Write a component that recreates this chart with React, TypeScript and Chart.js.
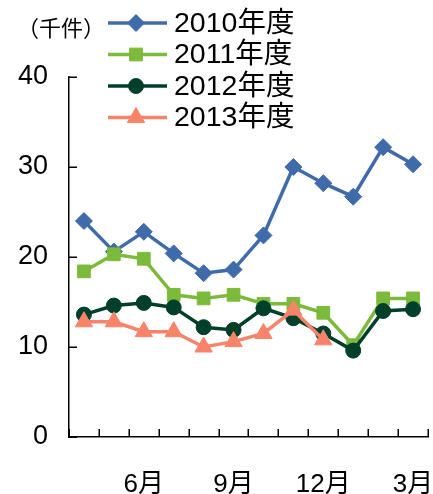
import React, { useEffect, useRef } from 'react';
import { Chart, registerables } from 'chart.js';
import { drawPoint } from 'chart.js/helpers';

Chart.register(...registerables);

const categories = ['4月', '5月', '6月', '7月', '8月', '9月', '10月', '11月', '12月', '1月', '2月', '3月'];
const tickLabels = ['', '', '6月', '', '', '9月', '', '', '12月', '', '', '3月'];
const seriesNames = ['2010年度', '2011年度', '2012年度', '2013年度'];
const fy2010 = [24.0, 20.6, 22.8, 20.4, 18.2, 18.6, 22.4, 30.0, 28.2, 26.7, 32.2, 30.3];
const fy2011 = [18.4, 20.3, 19.8, 15.8, 15.4, 15.8, 14.8, 14.8, 13.8, 10.2, 15.4, 15.4];
const fy2012 = [13.6, 14.6, 14.9, 14.4, 12.2, 11.9, 14.3, 13.2, 11.5, 9.6, 14.0, 14.2];
const fy2013 = [12.8, 12.8, 11.7, 11.7, 10.0, 10.6, 11.5, 14.1, 10.8, null, null, null];
const yTicks = [0, 10, 20, 30, 40];
const unitLabel = '（千件）';

const FONT = "'Liberation Sans', Arial, 'Noto Sans CJK JP', sans-serif";

const inwardTicks = {
  id: 'inwardTicks',
  beforeDatasetsDraw(chart: any) {
    const xs = chart.scales.x;
    const ys = chart.scales.y;
    const ctx = chart.ctx;
    ctx.save();
    ctx.strokeStyle = '#000';
    ctx.lineWidth = 1.5;
    const ax = ys.right;
    yTicks.forEach((v) => {
      const py = Math.round(ys.getPixelForValue(v)) + 0.25;
      ctx.beginPath();
      ctx.moveTo(ax, py);
      ctx.lineTo(ax + 8, py);
      ctx.stroke();
    });
    const half = (xs.getPixelForValue(1) - xs.getPixelForValue(0)) / 2;
    for (let i = 0; i <= categories.length; i++) {
      const px = Math.round(xs.getPixelForValue(i) - half) + 0.25;
      ctx.beginPath();
      ctx.moveTo(px, xs.top);
      ctx.lineTo(px, xs.top - 8);
      ctx.stroke();
    }
    ctx.restore();
  },
};

const customLegend = {
  id: 'customLegend',
  afterDraw(chart: any) {
    const ctx = chart.ctx;
    ctx.save();
    chart.data.datasets.forEach((ds: any, i: number) => {
      const y = 23 + i * 31.5;
      ctx.strokeStyle = ds.borderColor;
      ctx.lineWidth = 3.5;
      ctx.beginPath();
      ctx.moveTo(108, y);
      ctx.lineTo(167, y);
      ctx.stroke();
      ctx.fillStyle = ds.pointBackgroundColor;
      ctx.strokeStyle = ds.pointBorderColor;
      ctx.lineWidth = 1;
      drawPoint(ctx, { pointStyle: ds.pointStyle, radius: ds.pointRadius, rotation: 0, borderWidth: 1 } as any, 136, y);
      ctx.fillStyle = '#000';
      ctx.font = `28.5px ${FONT}`;
      ctx.textBaseline = 'middle';
      ctx.textAlign = 'left';
      ctx.fillText(ds.label, 174, y + 1);
    });
    ctx.font = `22px ${FONT}`;
    ctx.fillStyle = '#000';
    ctx.textBaseline = 'middle';
    ctx.textAlign = 'left';
    ctx.fillText(unitLabel, 17, 30);
    ctx.restore();
  },
};

export default function App() {
  const ref = useRef<HTMLCanvasElement | null>(null);
  useEffect(() => {
    if (!ref.current) return;
    const mk = (label: string, data: (number | null)[], color: string, style: string, radius: number, order: number) => ({
      label,
      data,
      borderColor: color,
      backgroundColor: color,
      pointBackgroundColor: color,
      pointBorderColor: color,
      pointStyle: style,
      pointRadius: radius,
      pointBorderWidth: 1,
      borderWidth: 3.5,
      tension: 0,
      order,
    });
    const chart = new Chart(ref.current, {
      type: 'line',
      data: {
        labels: categories,
        datasets: [
          mk(seriesNames[0], fy2010, '#406BAA', 'rectRot', 8.5, 4),
          mk(seriesNames[1], fy2011, '#7CBA3B', 'rect', 9, 3),
          mk(seriesNames[2], fy2012, '#00402B', 'circle', 7.5, 2),
          mk(seriesNames[3], fy2013, '#F8836B', 'triangle', 10, 1),
        ] as any,
      },
      options: {
        animation: false,
        responsive: true,
        maintainAspectRatio: false,
        layout: { autoPadding: false, padding: { top: 77, right: 5, left: 0, bottom: 0 } },
        plugins: { legend: { display: false }, tooltip: { enabled: false } },
        scales: {
          x: {
            offset: true,
            grid: { display: false, drawTicks: false },
            border: { display: true, color: '#000', width: 1.5 },
            ticks: {
              autoSkip: false,
              maxRotation: 0,
              minRotation: 0,
              padding: 32,
              color: '#000',
              font: { size: 26, family: FONT },
              callback: (_v: any, i: number) => tickLabels[i],
            },
            afterFit: (s: any) => {
              s.height = 57;
              s.paddingLeft = 0;
              s.paddingRight = 0;
            },
          },
          y: {
            min: 0,
            max: 40,
            grid: { display: false, drawTicks: false },
            border: { display: true, color: '#000', width: 1.5 },
            ticks: {
              stepSize: 10,
              padding: 21,
              color: '#000',
              font: { size: 27, family: FONT },
            },
            afterFit: (s: any) => {
              s.width = 69;
              s.paddingTop = 0;
              s.paddingBottom = 0;
            },
          },
        },
      },
      plugins: [inwardTicks, customLegend],
    });
    return () => chart.destroy();
  }, []);
  return (
    <div style={{ position: 'absolute', left: 0, top: 0, width: 433, height: 494 }}>
      <canvas ref={ref} />
    </div>
  );
}
